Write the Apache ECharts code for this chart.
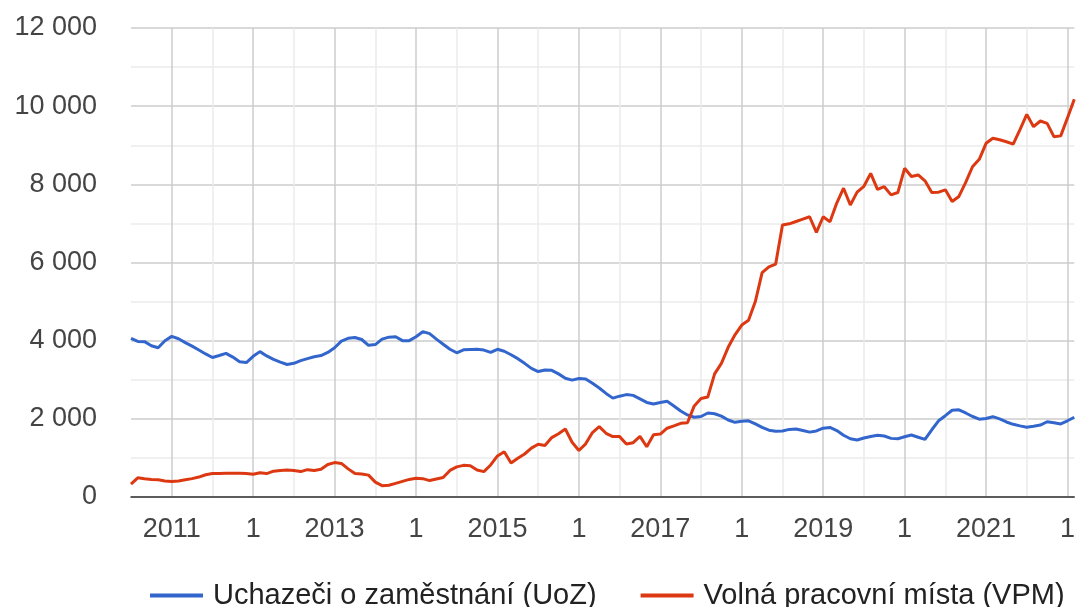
<!DOCTYPE html>
<html>
<head>
<meta charset="utf-8">
<script src="https://cdn.jsdelivr.net/npm/echarts@6/dist/echarts.min.js"></script>
<style>
  html, body { margin: 0; padding: 0; background: #fff; }
  #chart { width: 1078px; height: 607px; }
</style>
</head>
<body>
<div id="chart"></div>
<script>
// monthly data, Jul 2010 .. Feb 2022
const startYear = 2010
const startMonth = 7

const uoz = [
  4060, 3980, 3975, 3870, 3820, 4000,                                   // 2010
  4110, 4050, 3950, 3860, 3760, 3660, 3570, 3620, 3675, 3580, 3460, 3440, // 2011
  3600, 3720, 3610, 3520, 3450, 3390, 3420, 3490, 3540, 3590, 3620, 3700, // 2012
  3820, 3990, 4060, 4080, 4030, 3880, 3900, 4040, 4090, 4100, 4000, 4000, // 2013
  4100, 4230, 4180, 4040, 3910, 3780, 3690, 3765, 3775, 3780, 3760, 3700, // 2014
  3780, 3730, 3640, 3540, 3420, 3290, 3210, 3250, 3240, 3150, 3040, 2990, // 2015
  3030, 3020, 2910, 2790, 2650, 2530, 2580, 2620, 2600, 2510, 2420, 2380, // 2016
  2420, 2450, 2330, 2200, 2100, 2040, 2060, 2150, 2130, 2070, 1970, 1910, // 2017
  1940, 1950, 1870, 1780, 1710, 1680, 1690, 1730, 1740, 1700, 1660, 1690, // 2018
  1760, 1780, 1700, 1580, 1490, 1460, 1510, 1550, 1580, 1560, 1500, 1490, // 2019
  1540, 1585, 1530, 1475, 1720, 1950, 2080, 2220, 2230, 2150, 2060, 1990, // 2020
  2010, 2055, 2000, 1920, 1860, 1820, 1785, 1810, 1840, 1925, 1900, 1870, // 2021
  1950, 2040                                                             // 2022
]

const vpm = [
  330, 490, 465, 450, 440, 410,                                          // 2010
  395, 410, 440, 470, 510, 570, 600, 600, 605, 605, 605, 600,            // 2011
  580, 620, 600, 660, 680, 690, 680, 650, 700, 680, 710, 830,            // 2012
  880, 860, 720, 600, 590, 560, 380, 290, 300, 350, 400, 450,            // 2013
  480, 470, 420, 460, 500, 680, 770, 810, 800, 690, 650, 820,            // 2014
  1050, 1160, 870, 990, 1100, 1250, 1350, 1320, 1520, 1620, 1740, 1400,  // 2015
  1190, 1360, 1650, 1800, 1630, 1545, 1545, 1355, 1390, 1550, 1285, 1590, // 2016
  1610, 1760, 1820, 1885, 1900, 2330, 2520, 2560, 3150, 3420, 3830, 4150, // 2017
  4400, 4520, 5000, 5740, 5890, 5960, 6960, 6990, 7050, 7110, 7170, 6770, // 2018
  7170, 7040, 7520, 7900, 7470, 7800, 7950, 8280, 7870, 7940, 7730, 7790, // 2019
  8410, 8200, 8240, 8090, 7790, 7800, 7860, 7560, 7690, 8050, 8450, 8640, // 2020
  9050, 9180, 9140, 9090, 9030, 9400, 9790, 9475, 9620, 9560, 9220, 9240, // 2021
  9700, 10175                                                            // 2022
]

const seriesNames = ['Uchazeči o zaměstnání (UoZ)', 'Volná pracovní místa (VPM)']
const yTicks = [0, 2000, 4000, 6000, 8000, 10000, 12000]

// month categories like '2010-07'
const months = []
for (let i = 0; i < uoz.length; i++) {
  const m = startMonth - 1 + i
  const y = startYear + Math.floor(m / 12)
  months.push(y + '-' + String((m % 12) + 1).padStart(2, '0'))
}

const monthOf = (v) => parseInt(v.slice(5), 10)
const yearOf = (v) => parseInt(v.slice(0, 4), 10)

const font = "'Liberation Sans', Arial, sans-serif"
const chart = echarts.init(document.getElementById('chart'))

chart.setOption({
  animation: false,
  color: ['#3366cc', '#dc3912'],
  grid: { left: 131, right: 0, top: 28, bottom: 110, containLabel: false },
  legend: {
    data: seriesNames,
    left: 145,
    top: 576,
    icon: 'rect',
    itemWidth: 53,
    itemHeight: 4,
    itemGap: 44,
    textStyle: { fontSize: 29, color: '#222', fontFamily: font, padding: [0, 0, 0, 5] }
  },
  xAxis: [
    {
      type: 'category',
      data: months,
      boundaryGap: false,
      position: 'bottom',
      axisLine: { lineStyle: { color: '#333', width: 1.5 } },
      axisTick: { show: false },
      axisLabel: {
        interval: (i, v) => monthOf(v) === 1,
        formatter: (v) => {
          const y = yearOf(v)
          return y % 2 === 1 ? String(y) : '1'
        },
        color: '#444',
        fontSize: 27,
        fontFamily: font,
        margin: 19
      },
      splitLine: {
        show: true,
        interval: (i, v) => monthOf(v) === 1,
        lineStyle: { color: '#cccccc', width: 1.5 }
      }
    },
    {
      // only for the mid-year grid lines
      type: 'category',
      data: months,
      boundaryGap: false,
      position: 'top',
      axisLine: { show: false },
      axisTick: { show: false },
      axisLabel: { show: false },
      splitLine: {
        show: true,
        interval: (i, v) => i > 0 && monthOf(v) === 7,
        lineStyle: { color: '#ebebeb', width: 1.5 }
      }
    }
  ],
  yAxis: {
    type: 'value',
    min: yTicks[0],
    max: yTicks[yTicks.length - 1],
    interval: 2000,
    axisLine: { show: false },
    axisTick: { show: false },
    axisLabel: {
      color: '#444',
      fontSize: 27,
      fontFamily: font,
      margin: 34,
      formatter: (v) => String(v).replace(/\B(?=(\d{3})+(?!\d))/g, ' ')
    },
    splitLine: { lineStyle: { color: '#cccccc', width: 1.5 } },
    minorTick: { show: false, splitNumber: 2 },
    minorSplitLine: { show: true, lineStyle: { color: '#ebebeb', width: 1.5 } }
  },
  series: [
    {
      name: seriesNames[0],
      type: 'line',
      data: uoz,
      showSymbol: false,
      lineStyle: { width: 3 }
    },
    {
      name: seriesNames[1],
      type: 'line',
      data: vpm,
      showSymbol: false,
      lineStyle: { width: 3 }
    }
  ]
})
</script>
</body>
</html>
